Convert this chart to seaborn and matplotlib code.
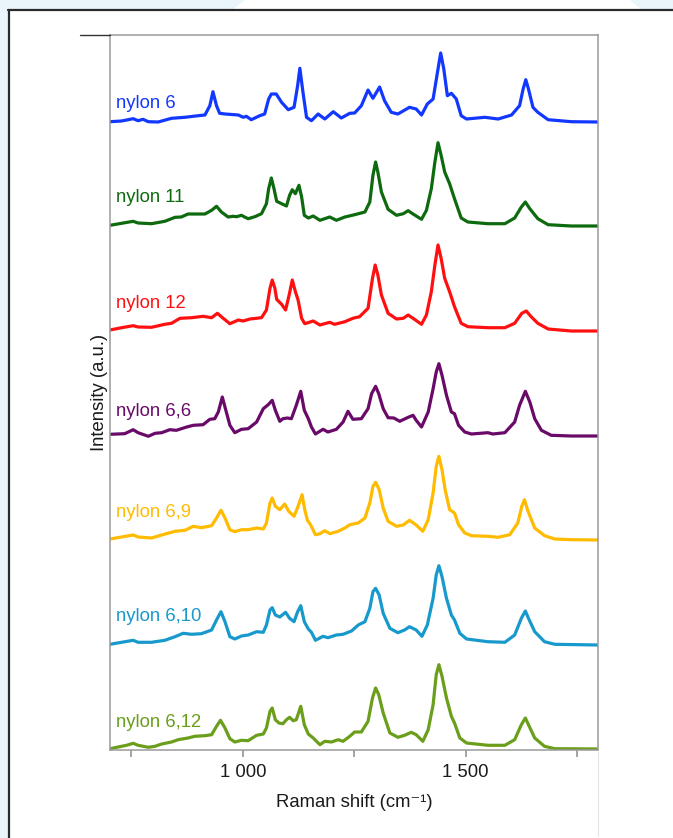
import matplotlib
matplotlib.use("Agg")
import numpy as np
import pandas as pd
import seaborn as sns
import matplotlib.pyplot as plt
from matplotlib.lines import Line2D
from matplotlib.patches import Polygon

# ---------------- data ----------------
samples = ["nylon 6", "nylon 11", "nylon 12", "nylon 6,6", "nylon 6,9", "nylon 6,10", "nylon 6,12"]
colors = ["#1238ff", "#0e6a0e", "#ff1010", "#690a69", "#ffbb00", "#1799cc", "#6b9e1b"]

x_n6 = [702, 728, 754, 765, 776, 788, 810, 840, 870, 900, 915, 926, 933, 941, 948, 960, 990, 1001, 1008, 1019,
        1038, 1049, 1058, 1064, 1075, 1087, 1102, 1115, 1123, 1128, 1135, 1143, 1154, 1169, 1184, 1203, 1221,
        1240, 1251, 1266, 1281, 1292, 1307, 1318, 1333, 1348, 1374, 1389, 1401, 1414, 1427, 1438, 1444, 1451,
        1459, 1468, 1479, 1490, 1502, 1543, 1573, 1603, 1621, 1629, 1635, 1641, 1651, 1662, 1685, 1737, 1797]
y_n6 = [0.3, 1, 3.3, 1.3, 2.7, 0.3, 0, 3.7, 4.7, 6.3, 7, 16.3, 30.3, 16.3, 8.7, 8, 7, 4.7, 5.7, 2.3,
        6.3, 8, 23, 28, 28, 19.7, 12.3, 14.7, 36.3, 53.7, 29.7, 4.7, 1.3, 8, 3, 10.3, 4,
        8.7, 9, 16.3, 32, 23.7, 35, 21.3, 9.7, 8, 14.7, 13, 7, 18, 23, 53, 69, 53,
        26.3, 28.7, 23, 6.3, 3, 4.7, 3, 7, 16.3, 33, 42.3, 33, 14.7, 9.7, 2.3, 0.3, 0]

x_n11 = [702, 728, 754, 765, 795, 825, 848, 862, 877, 915, 930, 941, 952, 967, 978, 986, 997, 1004, 1012, 1027,
         1042, 1053, 1058, 1064, 1070, 1076, 1087, 1098, 1105, 1111, 1118, 1126, 1132, 1138, 1147, 1158, 1173,
         1195, 1210, 1229, 1251, 1274, 1285, 1292, 1298, 1303, 1311, 1326, 1345, 1360, 1371, 1382, 1401, 1412,
         1423, 1431, 1438, 1445, 1453, 1464, 1475, 1490, 1505, 1550, 1588, 1610, 1625, 1634, 1644, 1662, 1685,
         1737, 1797]
y_n11 = [0.7, 2.7, 4.7, 3, 2.3, 4.7, 8.7, 9, 12, 12, 15.7, 19.7, 14, 9, 9.7, 9.3, 10.7, 9, 7.3, 9.3,
         12.3, 22.3, 37.3, 48, 37.3, 24.7, 22.3, 20, 30.7, 36.3, 32.3, 40.7, 29, 10.7, 8, 10, 5.7,
         9, 5.7, 9, 11.3, 14, 24, 50.7, 64, 54, 34, 16.7, 10.7, 12.3, 15.3, 12, 6.7, 15.7,
         37.3, 64, 83.3, 70.7, 54, 42.3, 27.3, 8, 4, 2.3, 2.3, 8, 19, 24, 17.3, 7.3, 1.3,
         0, 0]

x_n12 = [702, 728, 754, 765, 795, 825, 840, 859, 885, 911, 930, 943, 956, 971, 990, 1001, 1016, 1042, 1053, 1061,
         1066, 1072, 1076, 1087, 1096, 1104, 1111, 1118, 1124, 1132, 1139, 1158, 1173, 1195, 1206, 1229, 1247,
         1262, 1281, 1291, 1297, 1303, 1311, 1326, 1345, 1360, 1371, 1382, 1401, 1412, 1423, 1431, 1438, 1445,
         1453, 1464, 1475, 1490, 1505, 1550, 1588, 1610, 1626, 1636, 1647, 1662, 1685, 1737, 1797]
y_n12 = [1, 3.3, 5.3, 4, 3.7, 6.7, 7.7, 12.7, 13.3, 14.7, 13.3, 17.7, 12.7, 7.3, 11, 10, 12, 13.3, 21, 42.7,
         51, 42.7, 31.7, 26.7, 21, 36, 51, 39.3, 31, 12.7, 7.3, 10, 6, 8.7, 6.7, 9.3, 12.7,
         14.3, 22.7, 52.7, 66, 56, 36, 17.7, 12, 12.7, 16, 12.7, 6.7, 16, 39.3, 66, 86, 72.7,
         52.7, 39.3, 24.3, 7.7, 4.3, 3.3, 3.3, 7.7, 17.7, 20, 14.3, 7.7, 2, 0, 0]

x_n66 = [702, 735, 754, 765, 788, 803, 818, 836, 851, 874, 889, 911, 926, 937, 945, 954, 961, 971, 982, 997,
         1012, 1031, 1046, 1057, 1066, 1073, 1083, 1090, 1100, 1109, 1120, 1130, 1138, 1147, 1154, 1163, 1180,
         1191, 1210, 1225, 1236, 1247, 1266, 1281, 1289, 1298, 1305, 1315, 1326, 1339, 1352, 1371, 1382, 1389,
         1401, 1416, 1427, 1434, 1440, 1447, 1457, 1468, 1475, 1484, 1498, 1513, 1550, 1561, 1588, 1610, 1621,
         1634, 1644, 1655, 1670, 1692, 1737, 1797]
y_n66 = [1.7, 2.3, 6.3, 3.3, -0.3, 2.7, 3.3, 6.3, 5.7, 9, 10.7, 11.3, 16.7, 17.3, 24, 39, 27.3, 10.7, 3.3, 6.7,
         7.3, 14, 27.3, 31.3, 35.7, 25.7, 14.7, 17.3, 18, 17.3, 30.7, 44.7, 25.7, 17.3, 9, 2, 6.7,
         4, 6.7, 14, 24.7, 16.7, 17.3, 27.3, 42.3, 49.7, 42.3, 27.3, 18.3, 18, 14.7, 18.7, 20.7, 15.7,
         9, 24, 47.3, 64, 72.3, 60.7, 40.7, 24, 22.3, 10.7, 4, 2, 3.3, 2, 3.3, 14, 30.7,
         44.7, 34, 17.3, 5.7, 0.7, 0, 0]

x_n69 = [702, 728, 754, 765, 795, 818, 848, 870, 889, 907, 930, 941, 951, 960, 971, 982, 997, 1012, 1031, 1046,
         1053, 1061, 1066, 1073, 1083, 1094, 1103, 1115, 1124, 1133, 1139, 1145, 1152, 1163, 1173, 1184, 1195,
         1214, 1229, 1240, 1259, 1274, 1285, 1292, 1298, 1306, 1315, 1326, 1345, 1360, 1374, 1389, 1404, 1416,
         1427, 1434, 1440, 1447, 1454, 1464, 1475, 1484, 1498, 1513, 1550, 1573, 1599, 1617, 1626, 1632, 1640,
         1655, 1677, 1700, 1737, 1797]
y_n69 = [1, 3, 5, 3, 2, 5, 8.7, 9.7, 13.7, 12.3, 14.3, 22, 29.7, 22, 10.3, 8.3, 10.3, 10.3, 12, 11,
         17, 37, 42, 33.7, 30.3, 36, 28.7, 23.7, 33.7, 45.3, 30.3, 19.7, 15.3, 5.3, 6.3, 9.3, 6.3,
         8.7, 12, 15.3, 17, 22, 37, 53.7, 57.7, 50.3, 32, 18.7, 13.7, 15, 19.7, 15, 8.7, 20.3,
         47, 73.7, 83.7, 70.3, 50.3, 30.3, 27, 15.3, 7, 4.3, 3.7, 2.7, 5.3, 17, 33.7, 40.3, 28.7,
         12, 4.3, 1, 0.3, 0]

x_n610 = [702, 728, 754, 765, 795, 825, 848, 866, 885, 907, 930, 941, 951, 960, 971, 982, 997, 1012, 1031, 1046,
          1053, 1061, 1066, 1073, 1083, 1096, 1105, 1115, 1123, 1130, 1138, 1147, 1154, 1163, 1180, 1191, 1210,
          1225, 1244, 1259, 1274, 1285, 1292, 1298, 1306, 1315, 1330, 1348, 1363, 1374, 1389, 1402, 1414, 1427,
          1434, 1440, 1447, 1457, 1468, 1475, 1487, 1502, 1550, 1588, 1610, 1625, 1634, 1641, 1655, 1677, 1700,
          1797]
y_n610 = [0.7, 2.7, 4.7, 2.7, 2.7, 4.7, 8.3, 11.7, 10.7, 11.3, 15, 25, 33.3, 23.3, 8.3, 6, 9, 10, 13.3, 12.7,
          20, 35, 37.3, 30, 28, 32.7, 26.7, 23.3, 33.3, 39.3, 23.3, 16, 12.7, 4.7, 8.7, 7.3, 10,
          10.7, 14, 20, 23.3, 36.7, 53.3, 56.7, 50, 31.7, 16.7, 12.3, 15, 18.3, 15, 8.7, 20, 46.7,
          70, 79.3, 68.3, 46.7, 30, 25, 11.7, 6, 3.3, 2.7, 10, 26.7, 34, 26.7, 13.3, 3.3, 0.7,
          0]

x_n612 = [702, 728, 739, 754, 765, 788, 803, 818, 840, 855, 877, 892, 915, 930, 941, 950, 960, 971, 982, 997,
          1012, 1031, 1046, 1053, 1061, 1066, 1073, 1081, 1090, 1098, 1105, 1113, 1120, 1130, 1138, 1147, 1158,
          1173, 1184, 1199, 1214, 1225, 1240, 1251, 1266, 1281, 1291, 1298, 1305, 1315, 1330, 1348, 1363, 1378,
          1389, 1404, 1416, 1427, 1434, 1440, 1447, 1457, 1468, 1475, 1487, 1502, 1550, 1588, 1610, 1625, 1634,
          1641, 1655, 1677, 1700, 1797]
y_n612 = [0.3, 2.7, 3.7, 5.7, 3.7, 1.7, 2.7, 5, 7, 9.3, 11, 12.7, 13.3, 14.3, 22.7, 28.7, 21, 10.3, 7, 8.7,
          8.3, 13.7, 15, 21, 37.7, 41, 29.3, 26, 25.3, 29.3, 31.7, 28.3, 29.3, 42.7, 24.3, 15, 11,
          4.3, 7.7, 7, 9.3, 7.7, 12.7, 17, 17, 27.7, 51, 61, 54.3, 36, 16, 11.7, 13.7, 16.7,
          14.3, 7.7, 19.3, 44.3, 74.3, 84.3, 72.7, 51, 32.7, 26, 11, 6, 3.7, 3.7, 9.3, 24.3, 31,
          24.3, 11, 2.7, 0.3, 0]

x_lists = [x_n6, x_n11, x_n12, x_n66, x_n69, x_n610, x_n612]
y_lists = [y_n6, y_n11, y_n12, y_n66, y_n69, y_n610, y_n612]
offsets = [628, 524, 419, 314, 210, 105, 1]
label_y = [647, 552, 447, 339, 238, 134, 28]

tick_pos = [750, 1000, 1250, 1500, 1750]
tick_lab = ["", "1 000", "", "1 500", ""]

# ---------------- build table ----------------
frames = []
for name, xs, ys, off in zip(samples, x_lists, y_lists, offsets):
    frames.append(pd.DataFrame({"shift": xs, "intensity": np.array(ys) + off, "sample": name}))
df = pd.concat(frames, ignore_index=True)

sns.set_style("white")
plt.rcParams["font.family"] = ["Liberation Sans", "DejaVu Sans"]

W, H = 673, 838
fig = plt.figure(figsize=(W / 100, H / 100), dpi=100)
fig.patch.set_facecolor("white")

def fx(px):
    return px / W

def fy(py):
    return 1 - py / H

# decorative page background / frame
fig.patches.append(Polygon([(fx(0), fy(0)), (fx(245), fy(0)), (fx(232), fy(10)), (fx(8), fy(10)),
                            (fx(8), fy(838)), (fx(0), fy(838))], closed=True,
                           transform=fig.transFigure, facecolor="#e9f4fb", edgecolor="none", zorder=0))
fig.patches.append(Polygon([(fx(630), fy(0)), (fx(673), fy(0)), (fx(673), fy(10)), (fx(642), fy(10))],
                           closed=True, transform=fig.transFigure, facecolor="#e9f4fb",
                           edgecolor="none", zorder=0))
fig.lines.append(Line2D([fx(8), fx(673)], [fy(10.5), fy(10.5)], transform=fig.transFigure,
                        color="#2a2a2a", lw=1.6))
fig.lines.append(Line2D([fx(8.5), fx(8.5)], [fy(10), fy(838)], transform=fig.transFigure,
                        color="#2a2a2a", lw=1.6))
fig.lines.append(Line2D([fx(80), fx(110)], [fy(35), fy(35)], transform=fig.transFigure,
                        color="#333333", lw=1.0))
fig.lines.append(Line2D([fx(598), fx(598)], [fy(752), fy(836)], transform=fig.transFigure,
                        color="#e4e4e4", lw=0.8))

ax = fig.add_axes([fx(110), 1 - 750 / H, (598 - 110) / W, (750 - 35) / H])

sns.lineplot(data=df, x="shift", y="intensity", hue="sample", hue_order=samples,
             palette=dict(zip(samples, colors)), sort=False, estimator=None,
             linewidth=2.3, legend=False, ax=ax)

for name, col, ly in zip(samples, colors, label_y):
    ax.text(715, ly, name, color=col, fontsize=13.3, ha="left", va="center")

ax.set_xlim(702, 1797)
ax.set_ylim(0, 715)
ax.set_yticks([])
ax.set_xticks(tick_pos)
ax.set_xticklabels(tick_lab)
ax.tick_params(axis="x", direction="out", length=5, width=1.1, color="#8a8a8a",
               labelsize=13.3, labelcolor="#1a1a1a", pad=5, bottom=True)
for sp in ax.spines.values():
    sp.set_color("#9a9a9a")
    sp.set_linewidth(1.1)
    sp.set_visible(True)

ax.set_xlabel("Raman shift (cm\u207b\u00b9)", fontsize=13.3, color="#1a1a1a")
ax.set_ylabel("Intensity (a.u.)", fontsize=13.3, color="#1a1a1a")
ax.xaxis.set_label_coords(0.5, -0.062)
ax.yaxis.set_label_coords(-0.005, 0.5)

fig.savefig("out.png", dpi=100, facecolor=fig.get_facecolor())
